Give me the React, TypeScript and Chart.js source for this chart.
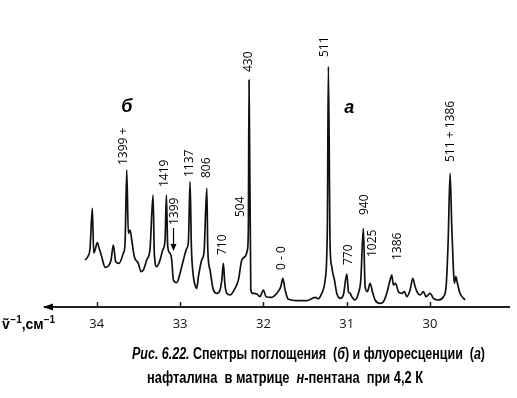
import React, { useEffect, useRef } from "react";
import { Chart, registerables } from "chart.js";

Chart.register(...registerables);

// Wavenumber, 10^3 cm^-1 (axis decreases to the right)
const wavenumbers = [
  34.14, 34.108, 34.08, 34.053, 34.036, 34.02, 33.993, 33.972, 33.94, 33.9,
  33.861, 33.828, 33.801, 33.772, 33.732, 33.681, 33.66, 33.64, 33.621, 33.6,
  33.58, 33.549, 33.501, 33.468, 33.441, 33.4, 33.36, 33.324, 33.309, 33.28,
  33.24, 33.208, 33.18, 33.164, 33.148, 33.12, 33.1, 33.08, 33.04, 33.0,
  32.96, 32.92, 32.9, 32.88, 32.864, 32.84, 32.82, 32.8, 32.78, 32.74,
  32.712, 32.679, 32.667, 32.64, 32.6, 32.559, 32.52, 32.499, 32.48, 32.463,
  32.439, 32.4, 32.34, 32.3, 32.259, 32.22, 32.192, 32.18, 32.172, 32.151,
  32.127, 32.079, 32.04, 32.0, 31.968, 31.899, 31.839, 31.791, 31.767, 31.739,
  31.7, 31.599, 31.479, 31.379, 31.34, 31.299, 31.259, 31.232, 31.22, 31.199,
  31.179, 31.167, 31.151, 31.119, 31.079, 31.04, 30.999, 30.978, 30.959, 30.939,
  30.899, 30.86, 30.831, 30.8, 30.779, 30.752, 30.719, 30.691, 30.659, 30.599,
  30.559, 30.519, 30.479, 30.459, 30.44, 30.415, 30.379, 30.339, 30.307, 30.278,
  30.239, 30.207, 30.179, 30.146, 30.119, 30.079, 30.047, 29.999, 29.959, 29.899,
  29.839, 29.807, 29.783, 29.759, 29.739, 29.719, 29.707, 29.69, 29.671, 29.64,
  29.58,
];

// Relative intensity (arbitrary units)
const intensity = [
  47, 50.3, 59, 98.7, 54, 57, 64.3, 59, 50.3, 39.7,
  41, 47, 62, 45.3, 43.7, 53.7, 63.7, 137, 73.7, 77,
  67, 50.3, 43.7, 35.3, 37, 47, 58.7, 112, 53.7, 40.3,
  47, 57, 67, 112, 60.3, 53.7, 47, 27, 24.3, 33.7,
  47, 58.7, 65.3, 125.3, 60.3, 30.3, 22, 18.7, 30.3, 47,
  55.3, 118.7, 57, 37, 17, 13.7, 17, 27, 43.7, 23.7,
  13.7, 12, 18.7, 27, 47, 50.3, 57, 80.3, 227, 17,
  13.7, 13, 10.3, 17, 10.3, 9.7, 13.7, 20.3, 28.7, 17,
  7.7, 6.3, 6.3, 9.7, 8.3, 13.7, 27, 80.3, 240.3, 60.3,
  40.3, 33.7, 28.7, 13.7, 8.7, 12, 33, 15, 13.7, 10.3,
  7, 13.7, 27, 78.7, 20.3, 15.3, 23.7, 15.3, 7, 3.7,
  5.3, 13.7, 27, 32, 22, 23.7, 15.3, 13.7, 15.3, 10.3,
  17, 28.7, 20.3, 13.7, 12, 15.3, 10.3, 13.7, 8.7, 7,
  10.3, 20.3, 63.7, 133.7, 80.3, 37, 23.7, 30.3, 23.7, 13.7,
  7,
];

const tickValues = [34, 33, 32, 31, 30];

// Peak annotations: text, wavenumber of label, intensity at label start
const peakTexts = ["1399 +", "1419", "1399", "1137", "806", "710", "504", "430", "0 - 0", "511", "770", "940", "1025", "1386", "511 + 1386"];
const peakPos = [33.681, 33.188, 33.06, 32.888, 32.679, 32.484, 32.268, 32.18, 31.779, 31.271, 30.98, 30.787, 30.695, 30.387, 29.759];
const peakBase = [142, 120, 82, 130, 129, 52, 90, 235, 37, 250, 42, 92, 50, 47, 145];

// Arrow under "1399": wavenumber, from-intensity, to-intensity
const arrowPos = 33.082;
const arrowFrom = 79;
const arrowTo = 56;

const spectrumLabels = [
  { text: "б", pos: 33.64, value: 195 },
  { text: "а", pos: 30.97, value: 194 },
];

const axisTitle = ["ṽ", "−1", ",см", "−1"];
const captionLine1 = [
  { t: "Рис. 6.22.", it: true },
  { t: " Спектры поглощения  (", it: false },
  { t: "б", it: true },
  { t: ") и флуоресценции  (", it: false },
  { t: "а", it: true },
  { t: ")", it: false },
];
const captionLine2 = [
  { t: "нафталина  в матрице  ", it: false },
  { t: "н", it: true },
  { t: "-пентана  при 4,2 К", it: false },
];

const SANS = "'Liberation Sans', Arial, sans-serif";
const LABEL_FONT = "'Open Sans', 'DejaVu Sans', sans-serif";

function drawSegments(ctx: CanvasRenderingContext2D, segs: { t: string; it: boolean }[], x0: number, y: number, target: number, size: number) {
  const fontOf = (it: boolean) => `${it ? "italic " : ""}bold ${size}px ${SANS}`;
  let total = 0;
  for (const s of segs) {
    ctx.font = fontOf(s.it);
    total += ctx.measureText(s.t).width;
  }
  const sx = target / total;
  ctx.save();
  ctx.translate(x0, y);
  ctx.scale(sx, 1);
  let x = 0;
  ctx.textAlign = "left";
  ctx.textBaseline = "alphabetic";
  for (const s of segs) {
    ctx.font = fontOf(s.it);
    ctx.fillText(s.t, x, 0);
    x += ctx.measureText(s.t).width;
  }
  ctx.restore();
}

const decorPlugin = {
  id: "decor",
  afterDraw(chart: any) {
    const ctx: CanvasRenderingContext2D = chart.ctx;
    const xs = chart.scales.x;
    const ys = chart.scales.y;
    const area = chart.chartArea;
    const axisY = area.bottom;
    ctx.save();
    ctx.fillStyle = "#000";
    ctx.strokeStyle = "#222";

    // axis line
    ctx.lineWidth = 2;
    ctx.beginPath();
    ctx.moveTo(area.left + 1, axisY);
    ctx.lineTo(area.right, axisY);
    ctx.stroke();
    // arrow head at left
    ctx.beginPath();
    ctx.moveTo(area.left, axisY);
    ctx.lineTo(area.left + 10, axisY - 3.5);
    ctx.lineTo(area.left + 10, axisY + 3.5);
    ctx.closePath();
    ctx.fill();
    // tick marks (upwards)
    ctx.lineWidth = 1.5;
    for (const v of tickValues) {
      const px = Math.round(xs.getPixelForValue(v)) + 0.5;
      ctx.beginPath();
      ctx.moveTo(px, axisY);
      ctx.lineTo(px, axisY - 5);
      ctx.stroke();
    }

    // peak labels, rotated
    ctx.font = `12px ${LABEL_FONT}`;
    ctx.textAlign = "left";
    ctx.textBaseline = "middle";
    peakTexts.forEach((t, i) => {
      const px = xs.getPixelForValue(peakPos[i]);
      const py = ys.getPixelForValue(peakBase[i]);
      ctx.save();
      ctx.translate(px, py);
      ctx.rotate(-Math.PI / 2);
      ctx.fillText(t, 0, 0);
      ctx.restore();
    });

    // arrow under 1399
    {
      const px = Math.round(xs.getPixelForValue(arrowPos)) + 0.5;
      const y1 = ys.getPixelForValue(arrowFrom);
      const y2 = ys.getPixelForValue(arrowTo);
      ctx.strokeStyle = "#000";
      ctx.lineWidth = 1.2;
      ctx.beginPath();
      ctx.moveTo(px, y1);
      ctx.lineTo(px, y2 - 4);
      ctx.stroke();
      ctx.beginPath();
      ctx.moveTo(px, y2);
      ctx.lineTo(px - 3, y2 - 7);
      ctx.lineTo(px + 3, y2 - 7);
      ctx.closePath();
      ctx.fill();
    }

    // spectrum letters
    ctx.font = `italic bold 18px ${SANS}`;
    ctx.textAlign = "center";
    ctx.textBaseline = "alphabetic";
    for (const l of spectrumLabels) {
      ctx.fillText(l.text, xs.getPixelForValue(l.pos), ys.getPixelForValue(l.value));
    }

    // axis title
    {
      let x = 2;
      const base = 329;
      ctx.textAlign = "left";
      ctx.font = `bold 14px ${SANS}`;
      ctx.fillText(axisTitle[0], x, base);
      x += ctx.measureText(axisTitle[0]).width + 0.5;
      ctx.font = `bold 10px ${SANS}`;
      ctx.fillText(axisTitle[1], x, base - 6);
      x += ctx.measureText(axisTitle[1]).width;
      ctx.font = `bold 14px ${SANS}`;
      ctx.fillText(axisTitle[2], x, base);
      x += ctx.measureText(axisTitle[2]).width;
      ctx.font = `bold 10px ${SANS}`;
      ctx.fillText(axisTitle[3], x, base - 6);
    }

    // caption
    drawSegments(ctx, captionLine1, 132, 359, 353, 16);
    drawSegments(ctx, captionLine2, 147, 383, 276, 16);

    ctx.restore();
  },
};

export default function App() {
  const ref = useRef<HTMLCanvasElement | null>(null);
  useEffect(() => {
    if (!ref.current) return;
    const data = wavenumbers.map((x, i) => ({ x, y: intensity[i] }));
    const chart = new Chart(ref.current, {
      type: "line",
      data: {
        datasets: [
          {
            data,
            borderColor: "#111",
            borderWidth: 1.7,
            pointRadius: 0,
            fill: false,
            cubicInterpolationMode: "monotone",
          } as any,
        ],
      },
      options: {
        animation: false,
        responsive: false,
        devicePixelRatio: 1,
        layout: { padding: { left: 43, right: 7, top: 20, bottom: 0 } },
        plugins: { legend: { display: false }, tooltip: { enabled: false } },
        scales: {
          x: {
            type: "linear",
            reverse: true,
            min: 29.04,
            max: 34.645,
            afterFit: (s: any) => {
              s.height = 91;
            },
            afterBuildTicks: (s: any) => {
              s.ticks = tickValues.map((v) => ({ value: v }));
            },
            grid: { display: false, drawTicks: false },
            border: { display: false },
            ticks: {
              padding: 9,
              color: "#111",
              maxRotation: 0,
              font: { family: "'Open Sans', 'DejaVu Sans', sans-serif", size: 13 },
              callback: (v: any) => String(v),
            },
          },
          y: { display: false, min: 0, max: 287 },
        },
      },
      plugins: [decorPlugin],
    });
    return () => chart.destroy();
  }, []);
  return (
    <div style={{ position: "fixed", left: 0, top: 0, width: 517, height: 398, background: "#fff" }}>
      <canvas ref={ref} width={517} height={398} style={{ display: "block" }} />
    </div>
  );
}
